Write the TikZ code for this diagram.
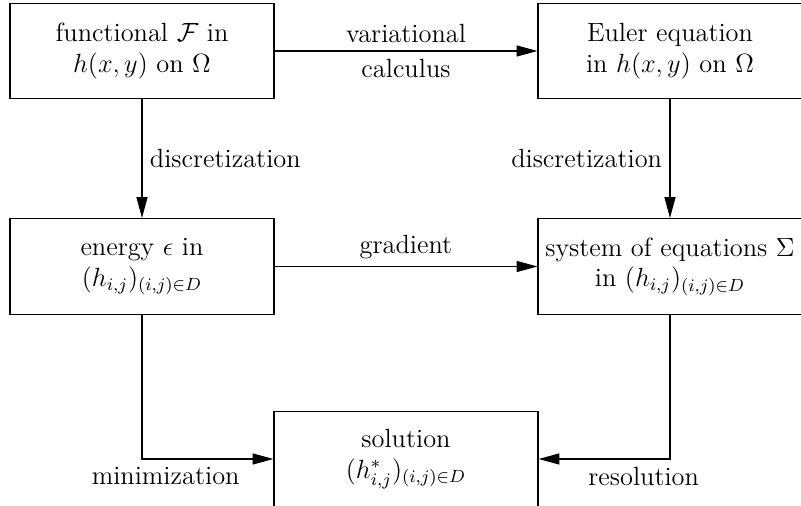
\documentclass[tikz,border=0pt]{standalone}
\usetikzlibrary{arrows.meta,positioning}
\tikzset{
    block/.style={draw,rectangle,minimum width=4.22cm,minimum height=1.53cm,inner sep=2pt,align=center,font=\large},
}
\begin{document}
\begin{tikzpicture}[->,>={Triangle[length=9.5pt,width=5pt]},semithick,auto,node distance=8.448cm,font=\large]
        \useasboundingbox (-2.272,0.816) rectangle (10.544,-7.28);
        \node[block] (fn) []{functional $\mathcal{F}$ in\\ $h(x,y)$ on $\Omega$};
        \node[block] (eu) [right of = fn]{Euler equation\\ in $h(x,y)$ on $\Omega$};
        \node[block] (en) [below of = fn, node distance=3.448cm]{energy $\epsilon$ in\\ $(h_{i,j})_{(i,j)\in D}$};
        \node[block] (sy) [below of = eu, node distance=3.448cm]{system of equations $\Sigma$\\ in $(h_{i,j})_{(i,j)\in D}$};
        \node[block] (so) [below of = en, node distance=3.08cm, xshift=4.224cm]{solution\\ $(h^*_{i,j})_{(i,j)\in D}$};

        \path
            (fn) edge node {variational} node[swap] {calculus} (eu)
            (fn) edge node {discretization} (en)
            (eu) edge node[swap] {discretization} (sy)
            (en) edge node {gradient} (sy)
            ;
        \draw (en) |- node[below,pos=0.59] {minimization} (so);
        \draw (sy) |- node[below,pos=0.6] {resolution} (so);
\end{tikzpicture}
\end{document}
